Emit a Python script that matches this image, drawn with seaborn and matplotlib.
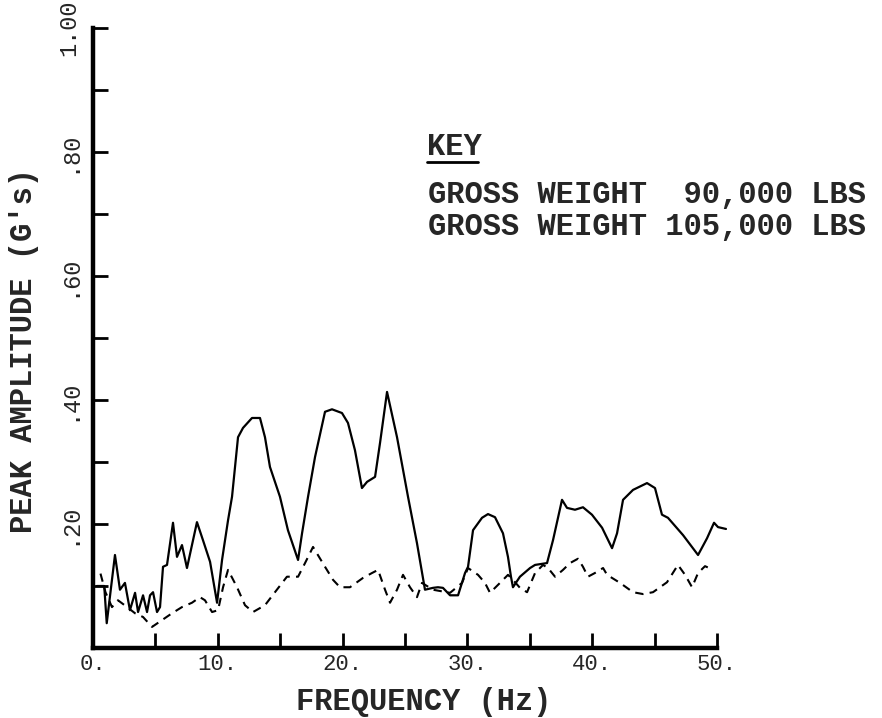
import seaborn as sns
import matplotlib.pyplot as plt
import pandas as pd
from matplotlib.lines import Line2D

# Gross weight 90,000 lbs (solid)
freq_90k = [0.3, 0.9, 1.1, 1.76, 2.16, 2.56, 2.96, 3.37, 3.61, 4.01, 4.33, 4.57, 4.81, 5.13,
            5.37, 5.61, 5.93, 6.41, 6.73, 7.13, 7.53, 7.93, 8.33, 8.81, 9.38, 9.94, 10.34,
            10.82, 11.14, 11.62, 12.02, 12.74, 13.38, 13.78, 14.18, 14.98, 15.62, 16.43,
            16.75, 17.23, 17.79, 18.59, 19.15, 19.95, 20.43, 20.99, 21.55, 21.96, 22.60,
            23.00, 23.56, 24.36, 25.24, 25.96, 26.60, 27.24, 27.64, 28.04, 28.61, 29.25,
            29.81, 30.05, 30.45, 31.17, 31.65, 32.21, 32.85, 33.25, 33.49, 33.65, 34.21,
            35.02, 35.42, 36.38, 36.86, 37.58, 37.98, 38.62, 39.26, 39.98, 40.79, 41.59,
            41.99, 42.47, 43.27, 44.39, 45.03, 45.59, 46.07, 47.28, 48.48, 49.20, 49.76,
            50.08, 50.72]
amp_90k = [0.100, 0.100, 0.040, 0.150, 0.094, 0.105, 0.061, 0.089, 0.058, 0.085, 0.058, 0.085,
           0.090, 0.058, 0.066, 0.131, 0.134, 0.202, 0.147, 0.166, 0.129, 0.166, 0.203, 0.174,
           0.139, 0.073, 0.142, 0.206, 0.244, 0.340, 0.355, 0.371, 0.371, 0.340, 0.292, 0.244,
           0.190, 0.142, 0.185, 0.244, 0.308, 0.381, 0.385, 0.379, 0.363, 0.319, 0.258, 0.268,
           0.276, 0.331, 0.413, 0.340, 0.244, 0.169, 0.094, 0.097, 0.098, 0.097, 0.085, 0.085,
           0.121, 0.131, 0.190, 0.210, 0.216, 0.211, 0.185, 0.147, 0.115, 0.098, 0.115, 0.129,
           0.134, 0.137, 0.174, 0.239, 0.226, 0.223, 0.227, 0.215, 0.194, 0.161, 0.185, 0.239,
           0.255, 0.266, 0.258, 0.215, 0.210, 0.182, 0.150, 0.177, 0.202, 0.195, 0.192]

# Gross weight 105,000 lbs (dashed)
freq_105k = [0.6, 1.0, 1.52, 2.00, 2.80, 3.37, 4.01, 4.73, 5.53, 6.33, 7.13, 7.93, 8.57, 8.97,
             9.54, 10.02, 10.42, 10.82, 11.54, 12.18, 12.82, 13.78, 14.58, 15.54, 16.43, 16.99,
             17.63, 18.59, 19.23, 19.79, 20.59, 21.63, 22.36, 22.84, 23.40, 23.80, 24.36,
             24.84, 25.40, 25.96, 26.36, 27.24, 28.61, 29.57, 30.05, 30.85, 31.41, 31.81,
             32.61, 33.25, 33.65, 34.21, 34.78, 35.42, 36.06, 36.46, 37.02, 37.66, 38.22,
             38.86, 39.26, 39.66, 40.22, 40.87, 41.19, 42.23, 43.27, 44.07, 44.87, 45.99,
             46.87, 47.44, 48.00, 48.48, 49.04, 49.68]
amp_105k = [0.120, 0.090, 0.066, 0.077, 0.065, 0.056, 0.050, 0.034, 0.045, 0.056, 0.066, 0.073,
            0.082, 0.077, 0.058, 0.061, 0.098, 0.126, 0.098, 0.069, 0.058, 0.069, 0.090, 0.115,
            0.115, 0.137, 0.163, 0.131, 0.110, 0.098, 0.098, 0.113, 0.121, 0.126, 0.094, 0.073,
            0.094, 0.118, 0.098, 0.082, 0.105, 0.094, 0.089, 0.105, 0.129, 0.118, 0.105, 0.089,
            0.105, 0.118, 0.110, 0.097, 0.090, 0.121, 0.134, 0.129, 0.115, 0.126, 0.137, 0.144,
            0.131, 0.115, 0.121, 0.129, 0.118, 0.105, 0.090, 0.087, 0.090, 0.106, 0.134, 0.118,
            0.098, 0.121, 0.132, 0.126]

x_major = [0, 10, 20, 30, 40, 50]
x_labels = ['0.', '10.', '20.', '30.', '40.', '50.']
x_minor = [5, 15, 25, 35, 45]
y_major = [0.2, 0.4, 0.6, 0.8, 1.0]
y_labels = ['.20', '.40', '.60', '.80', '1.00']
y_minor = [0.1, 0.3, 0.5, 0.7, 0.9]

df_90 = pd.DataFrame({'freq': freq_90k, 'amp': amp_90k})
df_105 = pd.DataFrame({'freq': freq_105k, 'amp': amp_105k})

sns.set_style('white')
plt.rcParams['font.family'] = ['Liberation Mono', 'DejaVu Sans Mono']

fig = plt.figure(figsize=(8.82, 7.18), dpi=100)
ax = fig.add_axes([93 / 882, 70 / 718, 634 / 882, 620 / 718])

sns.lineplot(data=df_90, x='freq', y='amp', color='black', lw=1.6,
             estimator=None, sort=False, ax=ax)
sns.lineplot(data=df_105, x='freq', y='amp', color='black', lw=1.5, linestyle=(0, (4, 3)),
             estimator=None, sort=False, ax=ax)

ax.set_xlim(0, 50.8)
ax.set_ylim(0, 1.0)
ax.spines['top'].set_visible(False)
ax.spines['right'].set_visible(False)
ax.spines['bottom'].set_bounds(0, 50)
for s in ['left', 'bottom']:
    ax.spines[s].set_linewidth(3.2)
    ax.spines[s].set_color('black')

ax.set_xticks(x_major)
ax.set_xticklabels(x_labels)
ax.set_xticks(x_minor, minor=True)
ax.set_yticks(y_major)
ax.set_yticklabels(y_labels, rotation=90, va='center')
ax.set_yticks(y_minor, minor=True)
ax.tick_params(which='both', bottom=True, left=True, direction='in', length=11, width=2,
               color='black')
ax.tick_params(axis='x', labelsize=16, pad=4)
ax.tick_params(axis='y', labelsize=17, pad=9)

ax.set_xlabel('FREQUENCY (Hz)', fontsize=22, fontweight='bold')
ax.xaxis.label.set_va('baseline')
ax.xaxis.set_label_coords(0.522, -0.1)
ax.set_ylabel("PEAK AMPLITUDE (G's)", fontsize=22, fontweight='bold')
ax.yaxis.set_label_coords(-0.085, 0.48)

# key (line samples are lost in the original, only text remains)
fig.text(427 / 882, 1 - 155 / 718, 'KEY', fontsize=22, fontweight='bold', va='baseline')
fig.add_artist(Line2D([427 / 882, 478 / 882], [1 - 162 / 718] * 2,
                      transform=fig.transFigure, color='black', lw=2))
fig.text(428 / 882, 1 - 203 / 718, 'GROSS WEIGHT  90,000 LBS', fontsize=22,
         fontweight='bold', va='baseline')
fig.text(428 / 882, 1 - 235 / 718, 'GROSS WEIGHT 105,000 LBS', fontsize=22,
         fontweight='bold', va='baseline')

fig.savefig('out.png', dpi=100)
